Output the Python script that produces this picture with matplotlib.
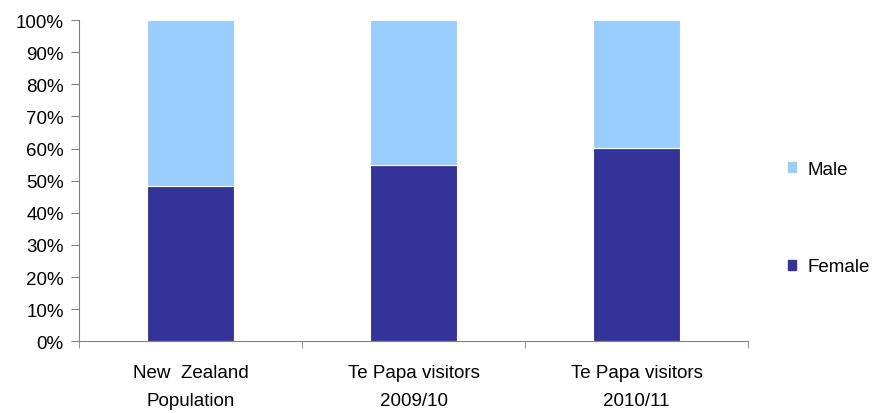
import numpy as np
import matplotlib.pyplot as plt
from matplotlib.patches import Patch
from matplotlib.ticker import PercentFormatter, FixedLocator

plt.rcParams["font.family"] = ["Liberation Sans", "DejaVu Sans"]

categories = ["New  Zealand\nPopulation", "Te Papa visitors\n2009/10", "Te Papa visitors\n2010/11"]
female = [48.3, 54.8, 60.3]
male = [100 - f for f in female]

female_color = "#333399"
male_color = "#99CCFF"
fs = 13.5

fig = plt.figure(figsize=(8.75, 4.14), dpi=100)
ax = fig.add_axes([0.0903, 0.173, 0.7646, 0.776])

x = np.arange(len(categories))
ax.bar(x, female, width=0.39, color=female_color, edgecolor="white", linewidth=0.8)
ax.bar(x, male, bottom=female, width=0.39, color=male_color, edgecolor="white", linewidth=0.8)

ax.set_xlim(-0.5, len(categories) - 0.5)
ax.set_ylim(0, 100)
ax.set_yticks(np.arange(0, 101, 10))
ax.yaxis.set_major_formatter(PercentFormatter(decimals=0))

ax.set_xticks(x)
ax.set_xticklabels(categories, linespacing=1.85)
ax.xaxis.set_minor_locator(FixedLocator(np.arange(-0.5, len(categories), 1.0)))
ax.tick_params(axis="x", which="major", length=0, pad=16.5, labelsize=fs)
ax.tick_params(axis="x", which="minor", length=5, color="#808080")
ax.tick_params(axis="y", length=6, color="#808080", labelsize=fs, pad=5)

for side in ["top", "right"]:
    ax.spines[side].set_visible(False)
for side in ["left", "bottom"]:
    ax.spines[side].set_color("#808080")

handles = [Patch(color=male_color, label="Male"), Patch(color=female_color, label="Female")]
fig.legend(handles=handles, loc="center left", bbox_to_anchor=(0.881, 0.471),
           frameon=False, fontsize=fs, handlelength=0.45, handleheight=0.45,
           handletextpad=0.6, labelspacing=4.3)

fig.savefig("out.png", dpi=100)
